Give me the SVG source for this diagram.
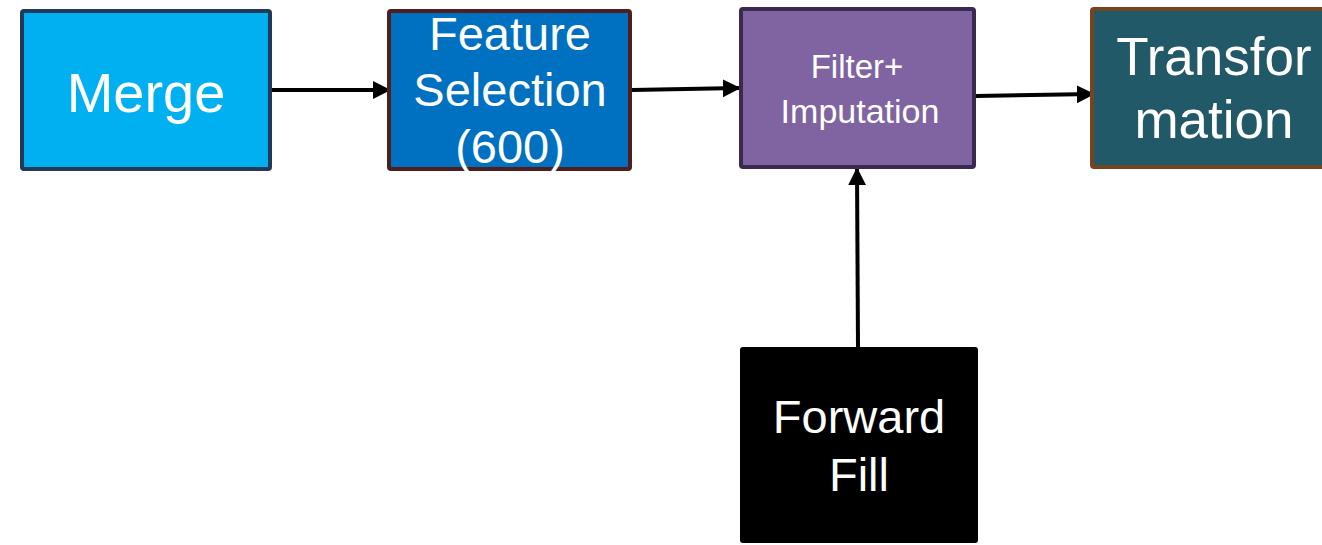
<svg xmlns="http://www.w3.org/2000/svg" width="1322" height="545" viewBox="0 0 1322 545">
<style>
.lbl{font-family:"Liberation Sans",Arial,sans-serif;fill:#ffffff;text-anchor:middle}
.conn{stroke:#000;stroke-width:4;fill:none}
</style>
<defs>
<marker id="ah" viewBox="0 0 10 10" refX="9" refY="5" markerWidth="4.5" markerHeight="4.5" orient="auto" markerUnits="strokeWidth">
<path d="M0,0 L10,5 L0,10 z" fill="#000"/>
</marker>
</defs>
<rect width="1322" height="545" fill="#ffffff"/>
<g id="connectors">
<line class="conn" x1="272" y1="90" x2="389" y2="90" marker-end="url(#ah)"/>
<line class="conn" x1="632" y1="90" x2="739" y2="88" marker-end="url(#ah)"/>
<line class="conn" x1="976" y1="96" x2="1093" y2="94" marker-end="url(#ah)"/>
<line class="conn" x1="858" y1="347" x2="857" y2="169" marker-end="url(#ah)"/>
</g>
<g id="merge">
<rect x="22" y="11" width="248" height="158" rx="2" fill="#00b0f0" stroke="#203a58" stroke-width="4"/>
<text class="lbl" x="146" y="112" font-size="56">Merge</text>
</g>
<g id="feature-selection">
<rect x="389" y="11" width="241" height="158" rx="2" fill="#0070c0" stroke="#4f1e1e" stroke-width="4"/>
<text class="lbl" x="510" y="50" font-size="47">Feature</text>
<text class="lbl" x="510" y="106" font-size="47">Selection</text>
<text class="lbl" x="510" y="163" font-size="47">(600)</text>
</g>
<g id="filter-imputation">
<rect x="741" y="9" width="233" height="158" rx="2" fill="#8064a2" stroke="#3a2a4e" stroke-width="4"/>
<text class="lbl" x="857" y="78" font-size="33">Filter+</text>
<text class="lbl" x="860" y="123" font-size="34">Imputation</text>
</g>
<g id="transformation">
<rect x="1092" y="9" width="250" height="158" rx="2" fill="#215968" stroke="#74451f" stroke-width="4"/>
<text class="lbl" x="1214" y="75" font-size="53">Transfor</text>
<text class="lbl" x="1214" y="138" font-size="53">mation</text>
</g>
<g id="forward-fill">
<rect x="740" y="347" width="238" height="196" rx="3" fill="#000000"/>
<text class="lbl" x="859" y="433" font-size="47">Forward</text>
<text class="lbl" x="859" y="491" font-size="47">Fill</text>
</g>
</svg>
